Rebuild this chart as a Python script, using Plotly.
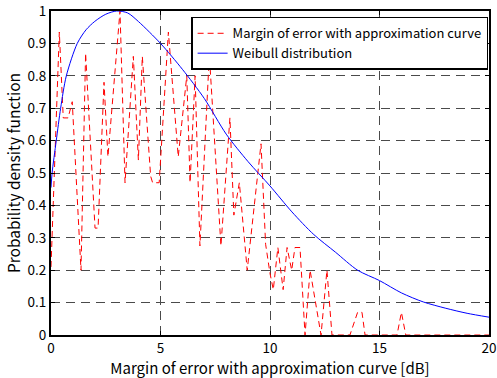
import plotly.graph_objects as go

# Empirical distribution of the approximation error (dB vs. normalised density)
err_db = [0.0, 0.38, 0.56, 0.78, 0.97, 1.37, 1.58, 2.01, 2.15, 2.42, 2.6, 3.15,
          3.38, 3.76, 3.99, 4.17, 4.55, 4.64, 4.94, 5.36, 5.81, 6.2, 6.35, 6.58,
          6.8, 7.23, 7.76, 8.17, 8.35, 8.6, 8.96, 9.59, 9.8, 10.0, 10.15, 10.36,
          10.6, 10.78, 10.99, 11.14, 11.37, 11.6, 11.83, 12.33, 12.6, 12.83,
          13.65, 14.0, 14.2, 14.34, 15.8, 16.0, 16.2, 20.0]
err_pdf = [0.21, 0.935, 0.67, 0.67, 0.72, 0.2, 0.87, 0.33, 0.33, 0.78, 0.55, 1.0,
           0.47, 0.86, 0.54, 0.86, 0.49, 0.47, 0.47, 0.935, 0.55, 0.80, 0.47, 0.80,
           0.275, 0.865, 0.275, 0.67, 0.37, 0.47, 0.2, 0.59, 0.28, 0.19, 0.14, 0.27,
           0.14, 0.27, 0.2, 0.27, 0.27, 0.0, 0.2, 0.0, 0.2, 0.0,
           0.0, 0.07, 0.07, 0.0, 0.0, 0.07, 0.0, 0.0]

# Fitted Weibull density, normalised to a peak of 1
wb_db = [0.0, 0.05, 0.24, 0.44, 0.7, 1.2, 1.6, 2.0, 2.5, 3.0, 3.5, 4.0, 5.0,
         6.0, 7.0, 8.0, 9.0, 10.0, 11.0, 12.0, 13.0, 14.0, 15.0, 16.0, 17.0,
         18.0, 19.0, 20.0]
wb_pdf = [0.455, 0.5, 0.6, 0.7, 0.8, 0.9, 0.942, 0.968, 0.99, 1.0, 0.994, 0.967,
          0.9, 0.82, 0.73, 0.62, 0.535, 0.46, 0.38, 0.31, 0.255, 0.2, 0.168,
          0.13, 0.102, 0.083, 0.067, 0.055]

x_ticks = [0, 5, 10, 15, 20]
y_ticks = [0, 0.1, 0.2, 0.3, 0.4, 0.5, 0.6, 0.7, 0.8, 0.9, 1.0]
y_tick_text = ["0", "0.1", "0.2", "0.3", "0.4", "0.5", "0.6", "0.7", "0.8", "0.9", "1"]

FONT = "Noto Sans CJK JP"

fig = go.Figure()
fig.add_trace(go.Scatter(
    x=err_db, y=err_pdf, mode="lines",
    name="Margin of error with approximation curve",
    line=dict(color="#ff0000", width=1, dash="6px,4px"),
))
fig.add_trace(go.Scatter(
    x=wb_db, y=wb_pdf, mode="lines", name="Weibull distribution",
    line=dict(color="#0000ff", width=1, shape="spline", smoothing=0.8),
))

axis_common = dict(
    showline=True, linecolor="black", linewidth=2, mirror="allticks",
    ticks="inside", ticklen=4, tickcolor="black", automargin=False,
    ticklabeloverflow="allow",
    showgrid=True, gridcolor="#4a4a4a", gridwidth=1.2, griddash="9px,6px",
    zeroline=False, tickfont=dict(family=FONT, size=13.5, color="black"),
)

fig.update_layout(
    width=497, height=378,
    margin=dict(l=51, r=8, t=11, b=43),
    paper_bgcolor="white", plot_bgcolor="white",
    font=dict(family=FONT, size=13.5, color="black"),
    showlegend=True,
    legend=dict(
        x=0.998, y=0.982, xanchor="right", yanchor="top",
        bgcolor="white", bordercolor="black", borderwidth=1.5,
        font=dict(family=FONT, size=13, color="black"),
        tracegroupgap=0, itemwidth=30,
    ),
    xaxis=dict(
        range=[0, 20], tickvals=x_ticks, ticktext=[str(v) for v in x_ticks],
        title=dict(text="Margin of error with approximation curve [dB]",
                   font=dict(family=FONT, size=15), standoff=2),
        **axis_common,
    ),
    yaxis=dict(
        range=[0, 1], tickvals=y_ticks, ticktext=y_tick_text,
        title=dict(text="Probability density function",
                   font=dict(family=FONT, size=15.5), standoff=3),
        **axis_common,
    ),
)

fig.write_html("out.html")
